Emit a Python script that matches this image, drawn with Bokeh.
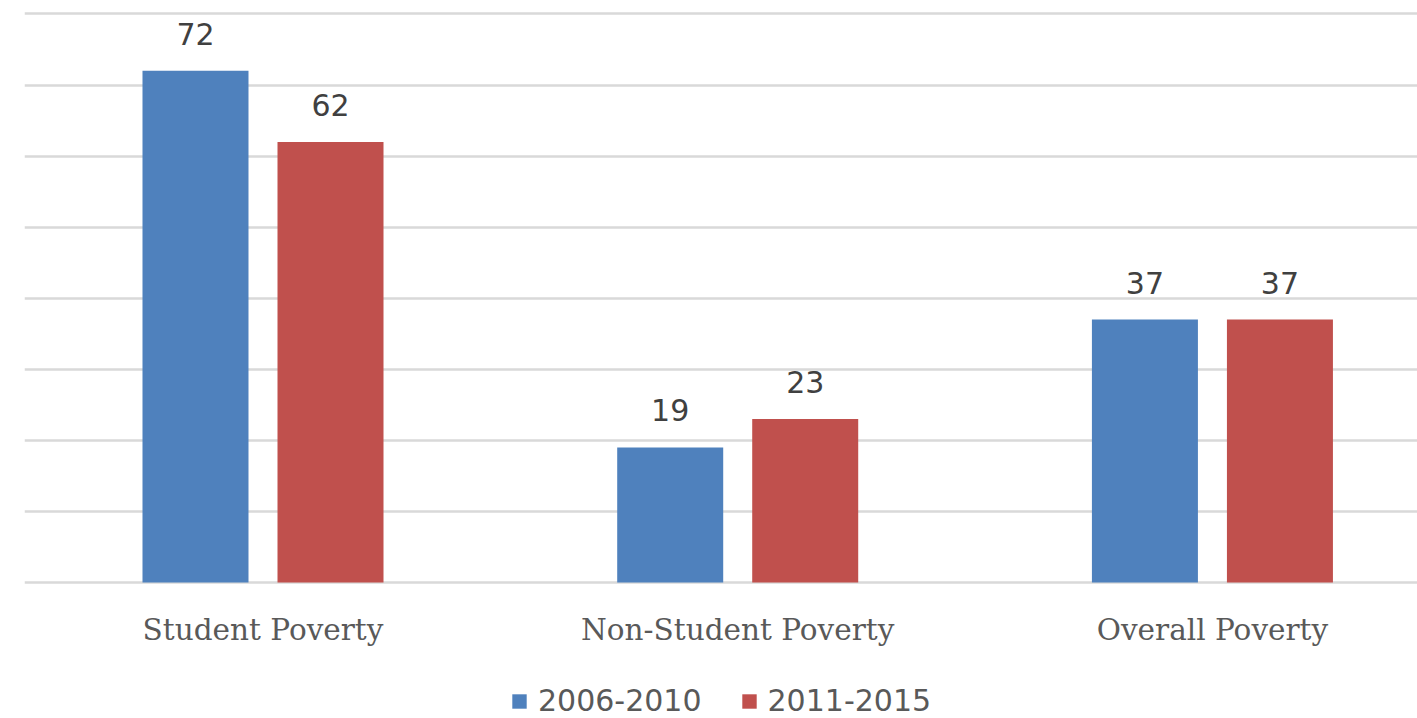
from bokeh.plotting import figure
from bokeh.models import ColumnDataSource, Range1d, FixedTicker, LabelSet, Legend, LegendItem
from bokeh.core.properties import value
from bokeh.embed import file_html
from bokeh.resources import INLINE

categories = ["Student Poverty", "Non-Student Poverty", "Overall Poverty"]
series_names = ["2006-2010", "2011-2015"]
values_2006_2010 = [72, 19, 37]
values_2011_2015 = [62, 23, 37]
colors = ["#4F81BD", "#C0504D"]

xpos = list(range(len(categories)))
bar_w = 0.2233
off = 0.1422

p = figure(frame_width=1393, frame_height=710, output_backend="svg", toolbar_location=None,
           x_range=Range1d(-0.5024, 2.432), y_range=Range1d(-19.14, 80.77),
           min_border_left=24, min_border_right=0, min_border_top=8, min_border_bottom=0,
           x_axis_location=None, y_axis_location=None)
p.outline_line_color = None
p.background_fill_color = "white"
p.border_fill_color = "white"

src1 = ColumnDataSource(dict(x=[v - off for v in xpos], y=values_2006_2010,
                             lab=[str(v) for v in values_2006_2010]))
src2 = ColumnDataSource(dict(x=[v + off for v in xpos], y=values_2011_2015,
                             lab=[str(v) for v in values_2011_2015]))
r1 = p.vbar(x="x", top="y", width=bar_w, source=src1, fill_color=colors[0], line_color=None)
r2 = p.vbar(x="x", top="y", width=bar_w, source=src2, fill_color=colors[1], line_color=None)

for s in (src1, src2):
    p.add_layout(LabelSet(x="x", y="y", text="lab", source=s, text_align="center",
                          text_baseline="alphabetic", y_offset=26,
                          text_font=value("DejaVu Sans"), text_font_size=value("30px"),
                          text_color="#404040"))

# horizontal gridlines (value axis 0..80 step 10)
p.ygrid.ticker = FixedTicker(ticks=list(range(0, 81, 10)))
p.ygrid.grid_line_color = "#D9D9D9"
p.ygrid.grid_line_width = 2.5
p.xgrid.visible = False

# category labels under the baseline
cat_src = ColumnDataSource(dict(x=xpos, y=[0] * len(categories), lab=categories))
p.add_layout(LabelSet(x="x", y="y", text="lab", source=cat_src, text_align="center",
                      text_baseline="alphabetic", y_offset=-58,
                      text_font=value("DejaVu Serif"), text_font_size=value("29.5px"),
                      text_color="#595959"))

legend = Legend(items=[LegendItem(label=series_names[0], renderers=[r1]),
                       LegendItem(label=series_names[1], renderers=[r2])],
                orientation="horizontal", location=(486, 0),
                glyph_width=18, glyph_height=18, label_standoff=10, spacing=38,
                label_text_font="DejaVu Sans", label_text_font_size="30px",
                label_text_color="#595959", border_line_color=None,
                background_fill_alpha=0, padding=0, margin=0)
p.add_layout(legend, "center")

open("out.html", "w").write(file_html(p, INLINE))
